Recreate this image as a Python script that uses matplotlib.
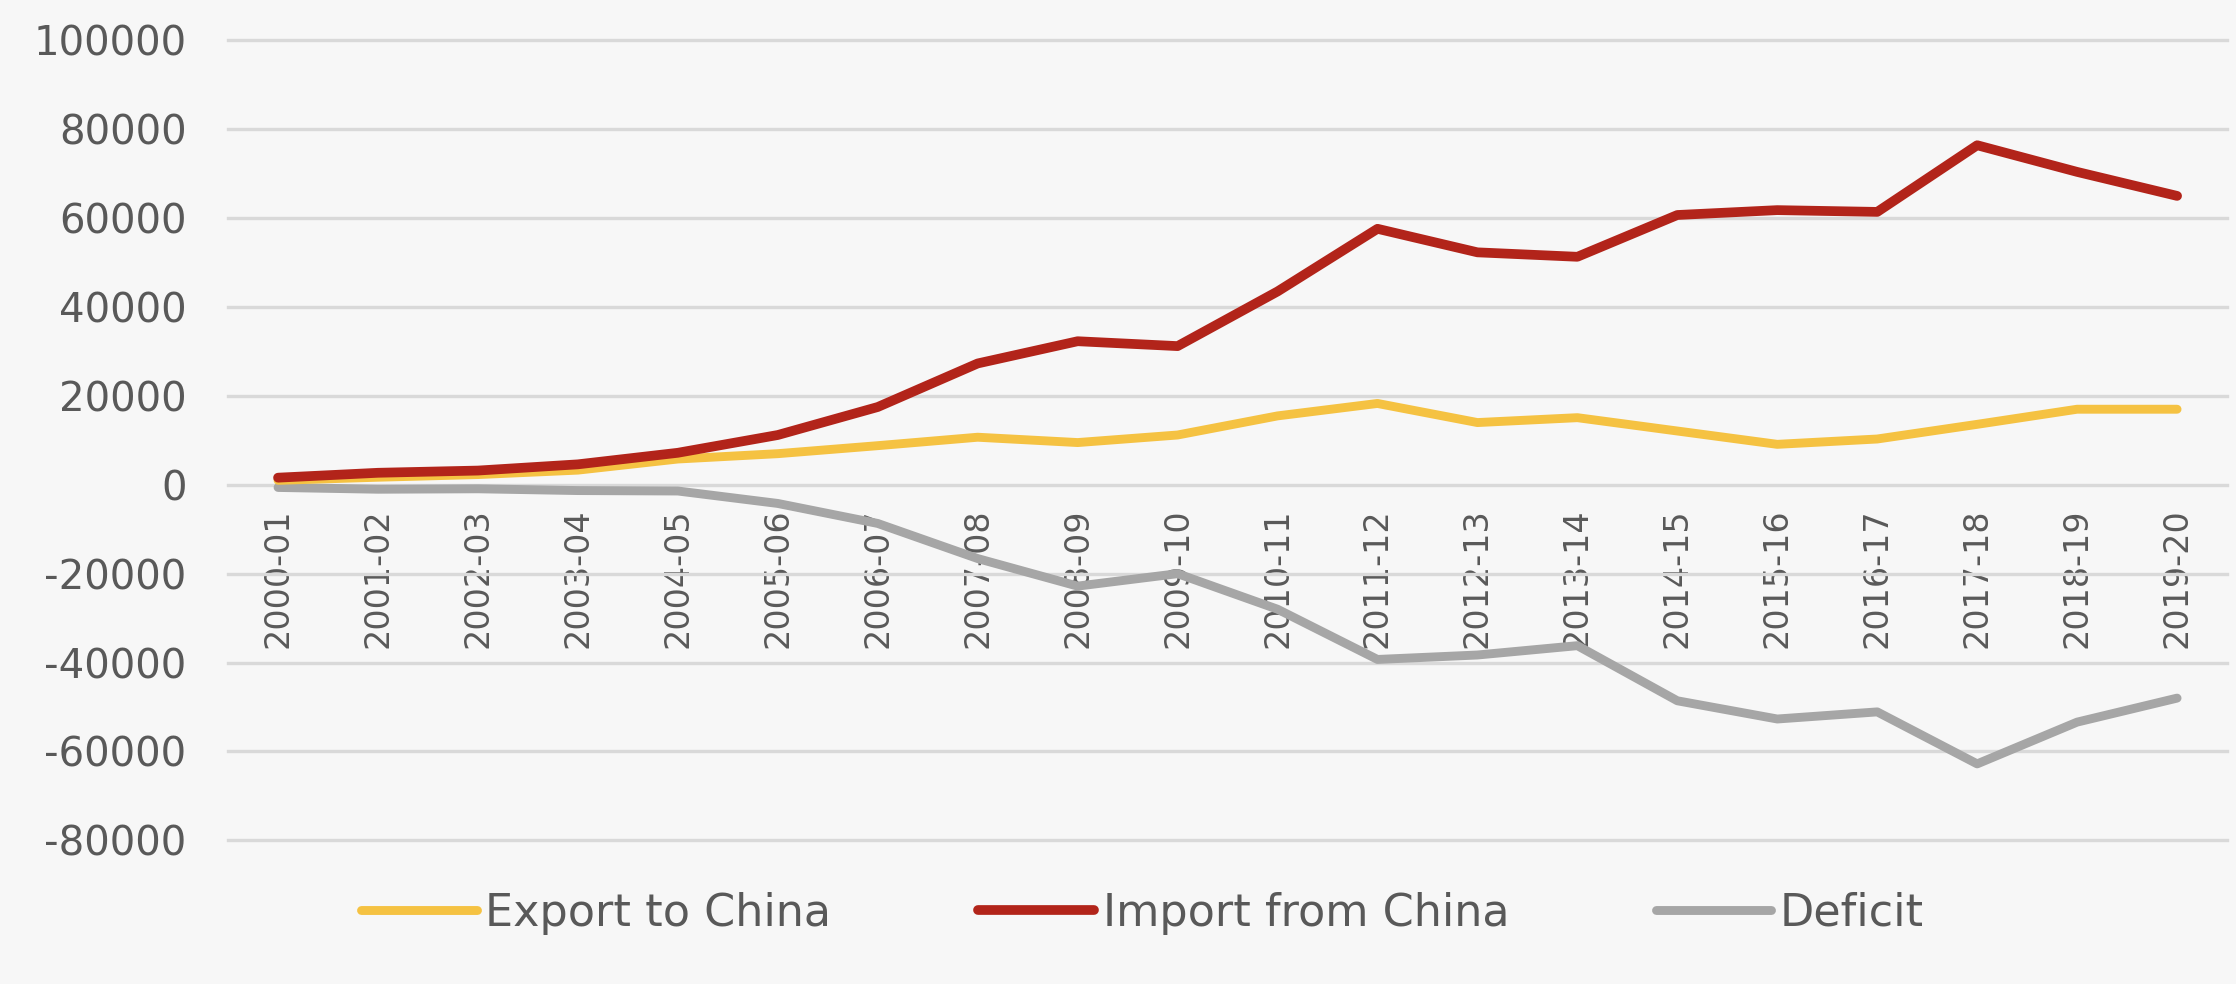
import matplotlib
matplotlib.use("Agg")
import matplotlib.pyplot as plt

years = ["2000-01", "2001-02", "2002-03", "2003-04", "2004-05", "2005-06", "2006-07",
         "2007-08", "2008-09", "2009-10", "2010-11", "2011-12", "2012-13", "2013-14",
         "2014-15", "2015-16", "2016-17", "2017-18", "2018-19", "2019-20"]
export_to_china = [1000, 1700, 2300, 3300, 5800, 7000, 8800, 10700, 9500, 11200,
                   15500, 18300, 14000, 15100, 12100, 9100, 10300, 13600, 17000, 17000]
import_from_china = [1600, 2700, 3200, 4600, 7200, 11200, 17500, 27300, 32300, 31200,
                     43500, 57600, 52300, 51300, 60700, 61800, 61400, 76400, 70400, 65000]
deficit = [-600, -1000, -900, -1300, -1400, -4200, -8700, -16600, -22800, -20000,
           -28000, -39300, -38300, -36200, -48600, -52700, -51100, -62800, -53400, -48000]
yticks = [-80000, -60000, -40000, -20000, 0, 20000, 40000, 60000, 80000, 100000]

plt.rcParams['font.family'] = ['DejaVu Sans']
bg = "#F7F7F7"
txt = "#595959"

fig = plt.figure(figsize=(22.36, 9.84), dpi=100, facecolor=bg)
ax = fig.add_axes([0.102, 0.146, 0.894, 0.813], facecolor=bg)

x = list(range(len(years)))
ax.plot(x, export_to_china, color="#F5C242", lw=6.4, label="Export to China",
        solid_capstyle="round", solid_joinstyle="round", zorder=3)
ax.plot(x, import_from_china, color="#B2241A", lw=7.0, label="Import from China",
        solid_capstyle="round", solid_joinstyle="round", zorder=4)
ax.plot(x, deficit, color="#A6A6A6", lw=6.4, label="Deficit",
        solid_capstyle="round", solid_joinstyle="round", zorder=2)

ax.set_xlim(-0.5, len(years) - 0.5)
ax.set_ylim(-80000, 100000)
ax.set_yticks(yticks)
ax.set_yticklabels([str(v) for v in yticks])
ax.yaxis.grid(True, color="#D9D9D9", lw=2.4, zorder=0)
for gl in ax.get_ygridlines():
    gl.set_clip_on(False)
ax.set_axisbelow(True)
for s in ["left", "right", "top"]:
    ax.spines[s].set_visible(False)
ax.spines["bottom"].set_position(("data", 0))
ax.spines["bottom"].set_visible(False)

ax.set_xticks(x)
ax.set_xticklabels(years)
ax.tick_params(axis="x", length=0, pad=17, labelsize=24, labelcolor=txt, labelrotation=90)
ax.tick_params(axis="y", length=0, pad=30, labelsize=29, labelcolor=txt)

leg = fig.legend(loc="center", bbox_to_anchor=(0.511, 0.072), ncol=3, frameon=False,
                 fontsize=32, handlelength=2.6, handletextpad=0.2, columnspacing=3.3,
                 labelcolor=txt)

fig.savefig("out.png", dpi=100, facecolor=bg)
